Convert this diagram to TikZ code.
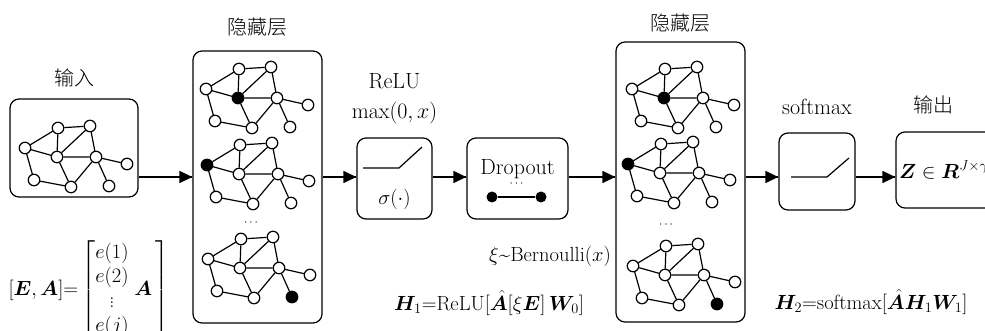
\RequirePackage{fix-cm}
\documentclass[tikz,border=0pt]{standalone}
\usepackage{amsmath}
\usepackage{fontspec}
\usepackage{bm}
\newfontfamily\cjk{Noto Sans CJK SC}[UprightFont=* Light]
\usetikzlibrary{positioning, arrows.meta, decorations.markings}

\tikzset{
    vertex/.style={circle, draw, fill=white, inner sep=0pt, minimum size=11.5pt},
    ball/.style={circle, fill=black, inner sep=0pt, minimum size=11pt},
    layer_box/.style={rectangle, draw, rounded corners=9pt},
    tag/.style={inner sep=0pt},
    big_tag/.style={inner sep=0pt, font=\fontsize{22}{26}\selectfont},
    cn_tag/.style={inner sep=0pt, font=\fontsize{20}{24}\selectfont\cjk},
    small_dots/.style={inner sep=0pt, font=\fontsize{12}{14}\selectfont},
    arrow_pointer/.style={decoration={markings,mark=at position 1 with %
    {\arrow{Triangle[length=13pt,width=12pt]}}},postaction={decorate}}
}

% one small graph: #1 origin, #2 name prefix, #3 vertex drawn black
\newcommand{\graphlet}[3]{%
    \begin{scope}[shift={#1}, #2#3/.style={fill=black}]
        \node[vertex, #2a/.try] (#2a) at (0,0) {};
        \node[vertex, #2b/.try] (#2b) at (33,-20) {};
        \node[vertex, #2c/.try] (#2c) at (65,-22) {};
        \node[vertex, #2d/.try] (#2d) at (32,9) {};
        \node[vertex, #2e/.try] (#2e) at (71,9) {};
        \node[vertex, #2f/.try] (#2f) at (102,16) {};
        \node[vertex, #2g/.try] (#2g) at (9,32) {};
        \node[vertex, #2h/.try] (#2h) at (46,39) {};
        \node[vertex, #2i/.try] (#2i) at (84,38) {};
        \draw (#2a) -- (#2b) -- (#2c) -- (#2e) -- (#2f);
        \draw (#2a) -- (#2d) -- (#2e) -- (#2i);
        \draw (#2b) -- (#2d) -- (#2c);
        \draw (#2d) -- (#2h) -- (#2e);
        \draw (#2a) -- (#2g) -- (#2h);
    \end{scope}}

\begin{document}
\begin{tikzpicture}[x=1pt, y=-1pt, line width=1.2pt,
    font=\fontsize{20.5}{24.6}\selectfont]
    \useasboundingbox (0,0) rectangle (985,331);
    \coordinate (flow) at (0,177);

    % Input
    \node[layer_box, minimum width=128pt, minimum height=98pt] (inp_box) at (74,148) {};
    \node[cn_tag, above=11pt of inp_box] (inp_label) {输入};
    \graphlet{(25,148)}{inp}{none}

    % Hidden layer 1
    \node[layer_box, minimum width=129pt, minimum height=272pt] (hid1_box) at (257.5,187) {};
    \node[cn_tag, above=13.5pt of hid1_box] (hid1_label) {隐藏层};
    \graphlet{(206,89)}{h1g1}{d}
    \graphlet{(207,165)}{h1g2}{a}
    \graphlet{(208,259)}{h1g3}{i}
    \node[small_dots] (hid1_dots) at (252,223) {$\cdots$};
    \draw [arrow_pointer] (inp_box.east |- flow) -- (hid1_box.west |- flow);

    % ReLU
    \node[layer_box, minimum width=75pt, minimum height=81pt] (relu_box) at (394.5,178.5) {};
    \node[big_tag, above=13pt of relu_box] (relu_fn) {$\max(0,x)$};
    \node[big_tag, above=12pt of relu_fn] (relu_name) {ReLU};
    \node[tag] (relu_sigma) at ([yshift=-20.5pt]relu_box.center) {$\sigma(\cdot)$};
    \draw ([shift={(-31.5,-10.5)}]relu_box.center) -- ++(36,0) -- ++(23,-21);
    \draw [arrow_pointer] (hid1_box.east |- flow) -- (relu_box.west |- flow);

    % Dropout
    \node[layer_box, minimum width=101pt, minimum height=81pt] (drop_box) at (517.5,178.5) {};
    \node[big_tag] (drop_name) at ([yshift=9.5pt]drop_box.center) {Dropout};
    \node[small_dots] (drop_dots) at ([yshift=-5pt]drop_box.center) {$\cdots$};
    \node[ball] (drop_l) at (492,197) {};
    \node[ball] (drop_r) at (541,197) {};
    \draw (drop_l) -- (drop_r);
    \draw [arrow_pointer] (relu_box.east |- flow) -- (drop_box.west |- flow);
    \node[tag] (drop_eq) at (550,256) {$\xi$\textasciitilde Bernoulli$(x)$};

    % Hidden layer 2
    \node[layer_box, minimum width=129pt, minimum height=280pt] (hid2_box) at (680.5,182) {};
    \node[cn_tag, above=8.5pt of hid2_box] (hid2_label) {隐藏层};
    \graphlet{(632,89)}{h2g1}{d}
    \graphlet{(628,164)}{h2g2}{a}
    \graphlet{(633,266)}{h2g3}{i}
    \node[small_dots] (hid2_dots) at (667,225) {$\cdots$};
    \draw [arrow_pointer] (drop_box.east |- flow) -- (hid2_box.west |- flow);

    % Softmax
    \node[layer_box, minimum width=76pt, minimum height=77pt] (soft_box) at (817,171.5) {};
    \node[big_tag, above=17pt of soft_box] (soft_name) {softmax};
    \draw ([shift={(-26,5.5)}]soft_box.center) -- ++(36,0) -- ++(22,-19);
    \draw [arrow_pointer] (hid2_box.east |- flow) -- (soft_box.west |- flow);

    % Output
    \node[layer_box, minimum width=110pt, minimum height=76pt] (out_box) at (951,170) {};
    \node[cn_tag, above=17pt of out_box, xshift=-18pt] (out_label) {输出};
    \node[tag, anchor=west] (out_z) at ([xshift=3pt]out_box.west) {$\bm{Z}\in\bm{R}^{J\times\gamma}$};
    \draw [arrow_pointer] (soft_box.east |- flow) -- (out_box.west |- flow);

    % Formulas
    \node[tag, anchor=west] (adj_eq) at (8,290)
        {$[\bm{E},\bm{A}]{=}\left[\begin{matrix}e(1)\\e(2)\\\vdots\\e(j)\end{matrix}\;\bm{A}\,\right]$};
    \node[tag] (h1_eq) at (489,303) {$\bm{H}_1$=ReLU$[\hat{\bm{A}}[\xi\bm{E}]\,\bm{W}_0]$};
    \node[tag] (h2_eq) at (871,302) {$\bm{H}_2$=softmax$[\hat{\bm{A}}\bm{H}_1\bm{W}_1]$};
\end{tikzpicture}
\end{document}
